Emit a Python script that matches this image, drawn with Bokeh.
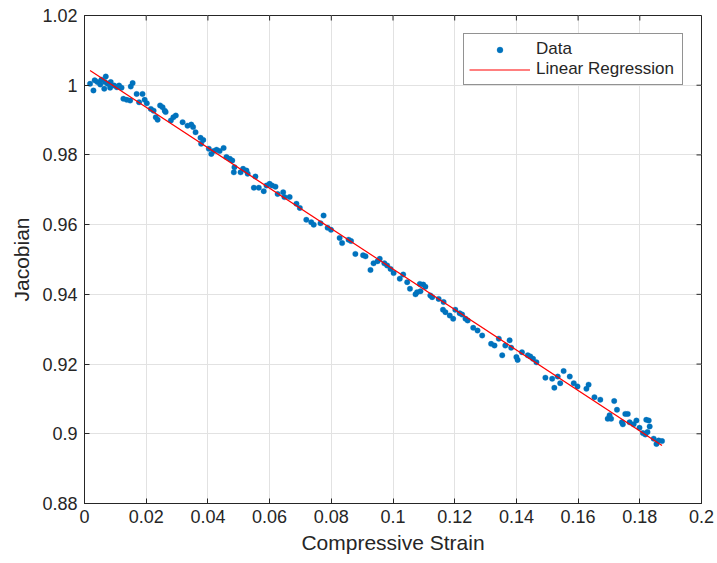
import numpy as np
from bokeh.plotting import figure
from bokeh.models import FixedTicker, Range1d, Legend, LegendItem
from bokeh.embed import file_html
from bokeh.resources import INLINE

strain = [
    0.0018, 0.0029, 0.0033, 0.0042, 0.0051, 0.0055, 0.0069, 0.0066, 0.0064, 0.0075,
    0.0085, 0.0083, 0.0096, 0.0105, 0.0112, 0.0120, 0.0126, 0.0137, 0.0148, 0.0150,
    0.0156, 0.0169, 0.0177, 0.0188, 0.0195, 0.0202, 0.0215, 0.0224, 0.0231, 0.0237,
    0.0245, 0.0253, 0.0260, 0.0263, 0.0280, 0.0288, 0.0296, 0.0318, 0.0334,
    0.0346, 0.0352, 0.0360, 0.0376, 0.0385, 0.0378, 0.0403, 0.0411, 0.0419, 0.0428,
    0.0438, 0.0451, 0.0460, 0.0471, 0.0479, 0.0486, 0.0484, 0.0506, 0.0514, 0.0525,
    0.0529, 0.0554, 0.0549, 0.0565, 0.0581, 0.0590, 0.0600, 0.0608, 0.0619, 0.0626,
    0.0644, 0.0648, 0.0665,
    0.0687, 0.0698, 0.0719, 0.0735, 0.0743, 0.0765, 0.0775, 0.0788, 0.0799, 0.0827,
    0.0835, 0.0856, 0.0864, 0.0878, 0.0903, 0.0911, 0.0927, 0.0937, 0.0950, 0.0957,
    0.0972, 0.0981, 0.0992,
    0.1002, 0.1022, 0.1033, 0.1046, 0.1055, 0.1073, 0.1078, 0.1089, 0.1087, 0.1098,
    0.1105, 0.1121, 0.1127, 0.1148, 0.1164, 0.1162, 0.1170, 0.1184, 0.1195, 0.1202,
    0.1216, 0.1224, 0.1235, 0.1242, 0.1260, 0.1274, 0.1289,
    0.1318, 0.1329, 0.1343, 0.1354, 0.1364, 0.1378, 0.1383, 0.1400, 0.1404, 0.1418,
    0.1437, 0.1445, 0.1454, 0.1465, 0.1494, 0.1516, 0.1523, 0.1534, 0.1542, 0.1553,
    0.1573, 0.1586, 0.1598, 0.1634, 0.1627,
    0.1653, 0.1672, 0.1696, 0.1702, 0.1707, 0.1717, 0.1726, 0.1742, 0.1745, 0.1753,
    0.1761, 0.1767, 0.1780, 0.1789, 0.1799, 0.1810, 0.1818, 0.1821, 0.1829, 0.1832,
    0.1825, 0.1845, 0.1854, 0.1861, 0.1872,
]

jacobian = [
    1.0004, 0.9985, 1.0014, 1.0009, 1.0002, 1.0016, 1.0025, 1.0009, 0.9990, 1.0004,
    1.0009, 0.9993, 0.9999, 0.9994, 0.9999, 0.9993, 0.9961, 0.9958, 0.9956, 0.9996,
    1.0006, 0.9975, 0.9951, 0.9975, 0.9958, 0.9948, 0.9932, 0.9927, 0.9908, 0.9901,
    0.9942, 0.9937, 0.9927, 0.9923, 0.9899, 0.9908, 0.9913, 0.9894, 0.9884,
    0.9887, 0.9880, 0.9865, 0.9849, 0.9843, 0.9832, 0.9818, 0.9803, 0.9811, 0.9815,
    0.9811, 0.9820, 0.9794, 0.9789, 0.9784, 0.9765, 0.9750, 0.9750, 0.9760, 0.9755,
    0.9746, 0.9738, 0.9706, 0.9706, 0.9696, 0.9712, 0.9717, 0.9712, 0.9709, 0.9688,
    0.9693, 0.9679, 0.9679,
    0.9660, 0.9648, 0.9614, 0.9607, 0.9600, 0.9604, 0.9626, 0.9591, 0.9585, 0.9562,
    0.9547, 0.9557, 0.9553, 0.9516, 0.9512, 0.9509, 0.9470, 0.9489, 0.9495, 0.9502,
    0.9489, 0.9483, 0.9473,
    0.9461, 0.9445, 0.9457, 0.9435, 0.9416, 0.9400, 0.9406, 0.9409, 0.9430, 0.9428,
    0.9422, 0.9397, 0.9392, 0.9387, 0.9378, 0.9356, 0.9349, 0.9339, 0.9330, 0.9356,
    0.9346, 0.9342, 0.9330, 0.9325, 0.9304, 0.9296, 0.9282,
    0.9258, 0.9253, 0.9273, 0.9225, 0.9253, 0.9268, 0.9247, 0.9220, 0.9212, 0.9234,
    0.9225, 0.9222, 0.9215, 0.9205, 0.9161, 0.9158, 0.9132, 0.9164, 0.9145, 0.9180,
    0.9164, 0.9145, 0.9136, 0.9141, 0.9129,
    0.9105, 0.9098, 0.9043, 0.9053, 0.9043, 0.9094, 0.9069, 0.9033, 0.9027, 0.9057,
    0.9057, 0.9033, 0.9027, 0.9038, 0.9017, 0.9002, 0.8998, 0.9040, 0.9038, 0.9021,
    0.9005, 0.8986, 0.8971, 0.8981, 0.8979,
]

x_ticks = [0, 0.02, 0.04, 0.06, 0.08, 0.1, 0.12, 0.14, 0.16, 0.18, 0.2]
x_tick_labels = ["0", "0.02", "0.04", "0.06", "0.08", "0.1", "0.12", "0.14", "0.16", "0.18", "0.2"]
y_ticks = [0.88, 0.9, 0.92, 0.94, 0.96, 0.98, 1.0, 1.02]
y_tick_labels = ["0.88", "0.9", "0.92", "0.94", "0.96", "0.98", "1", "1.02"]
x_min, x_max = 0, 0.2
y_min, y_max = 0.88, 1.02

slope, intercept = np.polyfit(strain, jacobian, 1)
fit_x = [min(strain), max(strain)]
fit_y = [intercept + slope * xv for xv in fit_x]

FONT = "Liberation Sans"
INK = "#262626"

p = figure(width=717, height=563, x_range=Range1d(x_min, x_max), y_range=Range1d(y_min, y_max),
           output_backend="svg", toolbar_location=None,
           min_border_left=84, min_border_right=16, min_border_top=15, min_border_bottom=60,
           background_fill_color="white", border_fill_color="white")
p.outline_line_color = INK
p.outline_line_width = 1

p.xaxis.ticker = FixedTicker(ticks=x_ticks)
p.yaxis.ticker = FixedTicker(ticks=y_ticks)
p.xaxis.major_label_overrides = {t: l for t, l in zip(x_ticks, x_tick_labels)}
p.yaxis.major_label_overrides = {t: l for t, l in zip(y_ticks, y_tick_labels)}
p.xaxis.axis_label = "Compressive Strain"
p.yaxis.axis_label = "Jacobian"

for ax in [p.xaxis[0], p.yaxis[0]]:
    ax.axis_line_color = INK
    ax.axis_line_width = 1
    ax.major_tick_line_color = INK
    ax.major_tick_in = 5
    ax.major_tick_out = 0
    ax.minor_tick_line_color = None
    ax.major_label_text_font = FONT
    ax.major_label_text_font_size = "18px"
    ax.major_label_text_color = INK
    ax.axis_label_text_font = FONT
    ax.axis_label_text_font_size = "21px"
    ax.axis_label_text_font_style = "normal"
    ax.axis_label_text_color = INK
p.xaxis.major_label_standoff = 6
p.xaxis.axis_label_standoff = 5
p.yaxis.major_label_standoff = 7
p.yaxis.axis_label_standoff = 6

p.grid.grid_line_color = "#e2e2e2"
p.grid.grid_line_width = 1
p.xgrid.ticker = FixedTicker(ticks=x_ticks)
p.ygrid.ticker = FixedTicker(ticks=y_ticks)

# inward tick marks on the top and right edges of the box
p.ray(x=x_ticks, y=[y_max] * len(x_ticks), length=5, length_units="screen",
      angle=-np.pi / 2, line_color=INK, line_width=1)
p.ray(x=[x_max] * len(y_ticks), y=y_ticks, length=5, length_units="screen",
      angle=np.pi, line_color=INK, line_width=1)

r_data = p.scatter(strain, jacobian, size=5.5, fill_color="#0072BD", line_color="#0072BD", line_width=0.3)
r_fit = p.line(fit_x, fit_y, line_color="#FF0000", line_width=1.2)

legend = Legend(items=[LegendItem(label="Data", renderers=[r_data]),
                       LegendItem(label="Linear Regression", renderers=[r_fit])],
                location="top_right", margin=18, padding=5, spacing=0,
                glyph_width=61, glyph_height=15, label_height=20, label_standoff=6,
                label_width=141,
                label_text_font=FONT, label_text_font_size="17px", label_text_color=INK,
                border_line_color=INK, border_line_width=1,
                background_fill_color="white", background_fill_alpha=1.0)
p.add_layout(legend)

open("out.html", "w").write(file_html(p, INLINE))
